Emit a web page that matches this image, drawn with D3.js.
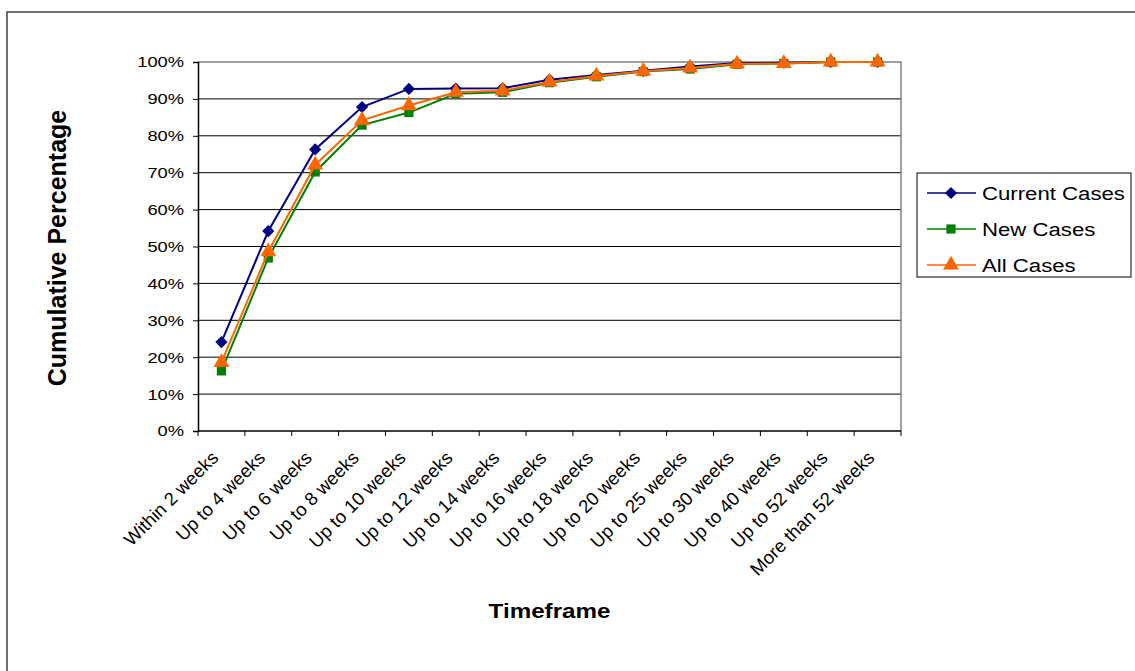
<!DOCTYPE html>
<html>
<head>
<meta charset="utf-8">
<script src="https://cdn.jsdelivr.net/npm/d3@7"></script>
<style>
  body { margin: 0; background: #fff; }
  svg text { font-family: "Liberation Sans", Arial, sans-serif; fill: #000; }
</style>
</head>
<body>
<div id="chart"></div>
<script>
// categories and series
var timeframes = ["Within 2 weeks", "Up to 4 weeks", "Up to 6 weeks", "Up to 8 weeks",
  "Up to 10 weeks", "Up to 12 weeks", "Up to 14 weeks", "Up to 16 weeks", "Up to 18 weeks",
  "Up to 20 weeks", "Up to 25 weeks", "Up to 30 weeks", "Up to 40 weeks", "Up to 52 weeks",
  "More than 52 weeks"];
var currentCases = [24.1, 54.2, 76.3, 87.8, 92.7, 92.8, 92.9, 95.2, 96.5, 97.6, 98.8, 99.7, 99.8, 100, 100];
var newCases     = [16.3, 46.9, 70.2, 82.9, 86.3, 91.4, 91.8, 94.4, 96.0, 97.4, 98.1, 99.4, 99.6, 100, 100];
var allCases     = [18.6, 48.6, 72.1, 84.2, 88.2, 91.8, 92.2, 94.6, 96.2, 97.5, 98.4, 99.5, 99.6, 100, 100];
var yTicks = [0, 10, 20, 30, 40, 50, 60, 70, 80, 90, 100];

// diamond = square turned 45 degrees, like the original marker
var series = [
  {name: "Current Cases", values: currentCases, color: "#000080", marker: d3.symbolSquare, size: 75, rot: 45},
  {name: "New Cases", values: newCases, color: "#008000", marker: d3.symbolSquare, size: 85, rot: 0},
  {name: "All Cases", values: allCases, color: "#FF6600", marker: d3.symbolTriangle, size: 110, rot: 0}
];

var W = 1135, H = 671;
var stretch = 1.18;   // text in the original is drawn a bit wide
var margin = {top: 62, left: 198, right: 234, bottom: 240};
var width = W - margin.left - margin.right,
    height = H - margin.top - margin.bottom;

var svg = d3.select("#chart").append("svg")
  .attr("width", W).attr("height", H);

// chart frame
svg.append("rect")
  .attr("x", 7).attr("y", 12)
  .attr("width", W).attr("height", H)
  .attr("fill", "none").attr("stroke", "#404040").attr("stroke-width", 1.5);

var g = svg.append("g")
  .attr("transform", "translate(" + margin.left + "," + margin.top + ")");

var x = d3.scaleBand().domain(timeframes).range([0, width]);
var y = d3.scaleLinear().domain([0, 100]).range([height, 0]);

// gridlines
g.selectAll(".grid").data(yTicks.filter(function(d){ return d > 0 && d < 100; }))
  .enter().append("line")
    .attr("x1", 0).attr("x2", width)
    .attr("y1", function(d){ return y(d); }).attr("y2", function(d){ return y(d); })
    .attr("stroke", "#000").attr("stroke-width", 1);

// plot area border (top and right in gray)
g.append("path")
  .attr("d", "M0," + y(100) + "H" + width + "V" + height)
  .attr("fill", "none").attr("stroke", "#808080").attr("stroke-width", 1.5);

// y axis
var yAxis = g.append("g")
  .call(d3.axisLeft(y).tickValues(yTicks).tickSize(5)
    .tickFormat(function(d){ return d + "%"; }));
yAxis.select(".domain").attr("stroke", "#000").attr("stroke-width", 1.5);
yAxis.selectAll("text")
  .attr("x", -14 / stretch)
  .attr("transform", "scale(" + stretch + ",1)")
  .style("font-size", "15.5px");

// x axis: ticks at the band edges
var xAxis = g.append("g").attr("transform", "translate(0," + height + ")");
xAxis.append("line").attr("x1", 0).attr("x2", width)
  .attr("stroke", "#000").attr("stroke-width", 1.5);
xAxis.selectAll(".tick").data(d3.range(timeframes.length + 1))
  .enter().append("line")
    .attr("x1", function(i){ return i * x.step(); })
    .attr("x2", function(i){ return i * x.step(); })
    .attr("y1", 0).attr("y2", 5)
    .attr("stroke", "#000");
xAxis.selectAll(".lbl").data(timeframes)
  .enter().append("text")
    .attr("transform", function(d){
      return "translate(" + (x(d) + x.bandwidth() / 2 - 2) + ",28) rotate(-45)";
    })
    .attr("text-anchor", "end")
    .style("font-size", "18.5px")
    .text(function(d){ return d; });

// axis titles
svg.append("text")
  .attr("transform", "translate(66,248) rotate(-90)")
  .attr("text-anchor", "middle")
  .style("font-size", "25px").style("font-weight", "bold")
  .text("Cumulative Percentage");
svg.append("text")
  .attr("transform", "translate(" + (margin.left + width / 2) + ",618) scale(" + stretch + ",1)")
  .attr("text-anchor", "middle")
  .style("font-size", "20.5px").style("font-weight", "bold")
  .text("Timeframe");

// lines and markers
var line = d3.line()
  .x(function(d, i){ return x(timeframes[i]) + x.bandwidth() / 2; })
  .y(function(d){ return y(d); });

series.forEach(function(s) {
  g.append("path")
    .datum(s.values)
    .attr("fill", "none")
    .attr("stroke", s.color)
    .attr("stroke-width", 2)
    .attr("d", line);
  g.selectAll(null).data(s.values)
    .enter().append("path")
      .attr("transform", function(d, i){
        return "translate(" + (x(timeframes[i]) + x.bandwidth() / 2) + "," + y(d) + ") rotate(" + s.rot + ")";
      })
      .attr("d", d3.symbol().type(s.marker).size(s.size))
      .attr("fill", s.color);
});

// legend
var legend = svg.append("g").attr("transform", "translate(917,173)");
legend.append("rect")
  .attr("width", 214).attr("height", 104)
  .attr("fill", "#fff").attr("stroke", "#000").attr("stroke-width", 1);
series.forEach(function(s, i) {
  var ly = 20 + i * 36;
  legend.append("line")
    .attr("x1", 10).attr("x2", 59).attr("y1", ly).attr("y2", ly)
    .attr("stroke", s.color).attr("stroke-width", 1.5);
  legend.append("path")
    .attr("transform", "translate(34," + ly + ") rotate(" + s.rot + ")")
    .attr("d", d3.symbol().type(s.marker).size(s.size))
    .attr("fill", s.color);
  legend.append("text")
    .attr("transform", "translate(65," + ly + ") scale(" + stretch + ",1)")
    .attr("dy", "0.36em")
    .style("font-size", "18.8px")
    .text(s.name);
});
</script>
</body>
</html>
